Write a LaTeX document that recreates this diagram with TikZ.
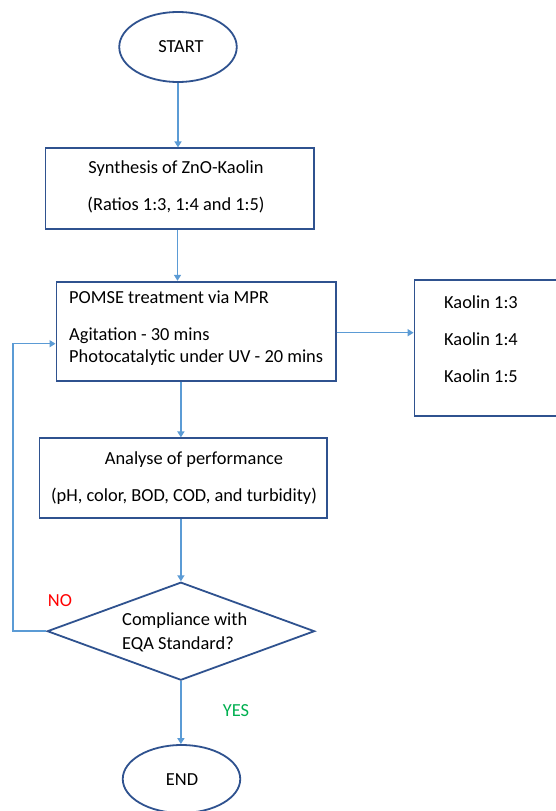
\documentclass[tikz,border=0pt]{standalone}
\usepackage{fontspec}
\setmainfont{Carlito}
\usetikzlibrary{arrows.meta,shapes.geometric}
\definecolor{boxline}{HTML}{2F528F}
\definecolor{conn}{HTML}{5B9BD5}
\definecolor{nored}{HTML}{FF0000}
\definecolor{yesgreen}{HTML}{00B050}
\begin{document}
\begin{tikzpicture}[x=1pt,y=-1pt,
  font=\fontsize{18.4}{22}\selectfont,
  shapebox/.style={draw=boxline,line width=1.8pt,fill=white,inner sep=0pt},
  oval/.style={shapebox,ellipse},
  decision/.style={shapebox,diamond},
  txt/.style={inner sep=0pt,anchor=mid,yshift=-4.5pt},
  conline/.style={draw=conn,line width=1.5pt},
  arr/.style={conline,-{Triangle[width=7pt,length=6pt]}}]
\clip (0,0) rectangle (556,811);
\fill[white] (0,0) rectangle (556,811);
% shapes
\node[oval,minimum width=117.5pt,minimum height=70pt] (start) at (178,47) {};
\node[txt] at (181,46) {START};
\node[shapebox,rectangle,minimum width=268.6pt,minimum height=81pt] (synth) at (179.7,188.8) {};
\node[txt] at (176,167) {Synthesis of ZnO-Kaolin};
\node[txt] at (176,204) {(Ratios 1:3, 1:4 and 1:5)};
\node[shapebox,rectangle,minimum width=279.4pt,minimum height=99pt] (pomse) at (196.1,331.2) {};
\node[txt,anchor=mid west] at (69,297) {POMSE treatment via MPR};
\node[txt,anchor=mid west] at (69,334) {Agitation - 30 mins};
\node[txt,anchor=mid west] at (69,356) {Photocatalytic under UV - 20 mins};
\node[shapebox,rectangle,minimum width=200pt,minimum height=136pt] (kaolin) at (514.5,348.3) {};
\node[txt,anchor=mid west] at (444,302) {Kaolin 1:3};
\node[txt,anchor=mid west] at (444,339) {Kaolin 1:4};
\node[txt,anchor=mid west] at (444,376) {Kaolin 1:5};
\node[shapebox,rectangle,minimum width=287.2pt,minimum height=80pt] (analyse) at (183,478.3) {};
\node[txt] at (194,458) {Analyse of performance};
\node[txt] at (184,495) {(pH, color, BOD, COD, and turbidity)};
\node[decision,minimum width=267.3pt,minimum height=98pt,aspect=2.7] (dec) at (180.9,631.2) {};
\node[txt,anchor=mid west] at (122,619) {Compliance with};
\node[txt,anchor=mid west] at (122,643) {EQA Standard?};
\node[oval,minimum width=117.5pt,minimum height=68pt] (end) at (181.5,779) {};
\node[txt] at (182,779) {END};
\node[txt,text=nored] (no) at (60,600) {NO};
\node[txt,text=yesgreen] (yes) at (236,710) {YES};
% connectors
\draw[arr] (start.south) -- (start.south |- synth.north);
\draw[arr] (synth.south -| 177.5,0) -- (177.5,0 |- pomse.north);
\draw[arr] (pomse.east |- 0,332.7) -- (kaolin.west |- 0,332.7);
\draw[arr] (180.9,0 |- pomse.south) -- (180.9,0 |- analyse.north);
\draw[arr] (180.9,0 |- analyse.south) -- (dec.north);
\coordinate (loopa) at (13.1,631.2);
\coordinate (loopb) at (13.1,343.7);
\draw[arr] (dec.west) -- (loopa) -- (loopb) -- (pomse.west |- loopb);
\draw[arr] (dec.south) -- (dec.south |- end.north);
\end{tikzpicture}
\end{document}
